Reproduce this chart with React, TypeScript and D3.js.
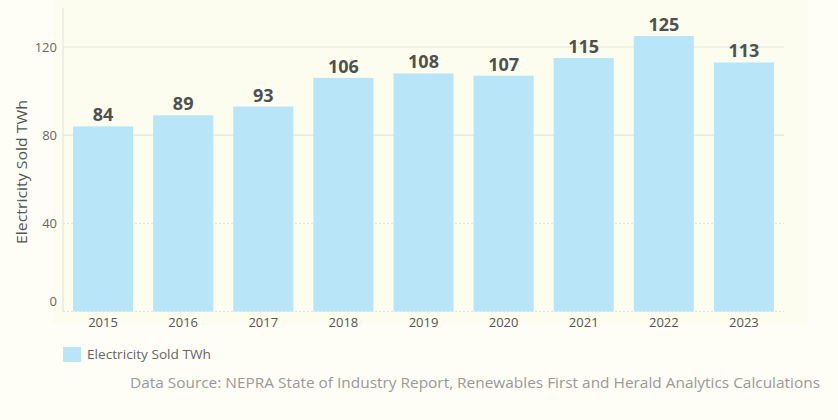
import React from "react";
import * as d3 from "d3";

const years = ["2015", "2016", "2017", "2018", "2019", "2020", "2021", "2022", "2023"];
const sold = [84, 89, 93, 106, 108, 107, 115, 125, 113];
const yTicks = [0, 40, 80, 120];
const seriesName = "Electricity Sold TWh";
const sourceText =
  "Data Source: NEPRA State of Industry Report, Renewables First and Herald Analytics Calculations";

const W = 838;
const H = 420;
const FONT = "'Open Sans', 'DejaVu Sans', sans-serif";

export default function App() {
  const left = 63;
  const right = 784;
  const top = 8;
  const bottom = 311.5;
  const x = d3.scaleBand<string>().domain(years).range([left, right]).paddingInner(0.25).paddingOuter(0.125);
  const y = d3.scaleLinear().domain([0, 137.7]).range([bottom, top]);

  return (
    <div style={{ position: "absolute", left: 0, top: 0 }}>
      <svg width={W} height={H} style={{ display: "block" }}>
        <rect x={0} y={0} width={W} height={H} fill="#fefef7" />
        <rect x={53} y={0} width={755} height={323} fill="#fcfcef" />
        {/* gridlines */}
        {yTicks.map((t) => (
          <line
            key={t}
            x1={left}
            x2={right}
            y1={y(t)}
            y2={y(t)}
            stroke="#e4e4dc"
            strokeWidth={t === 0 ? 1 : 1.2}
            strokeDasharray={t === 0 || t === 40 ? "2,2" : undefined}
          />
        ))}
        <line x1={left} x2={left} y1={top} y2={bottom} stroke="#e4e4dc" strokeWidth={1.2} />
        {/* bars */}
        {years.map((yr, i) => (
          <rect
            key={yr}
            x={x(yr)}
            y={y(sold[i])}
            width={x.bandwidth()}
            height={bottom - y(sold[i])}
            fill="#b8e6f8"
          />
        ))}
        {/* value labels */}
        {years.map((yr, i) => (
          <text
            key={yr}
            x={(x(yr) as number) + x.bandwidth() / 2}
            y={y(sold[i]) - 5}
            textAnchor="middle"
            fontFamily={FONT}
            fontWeight={700}
            fontSize={18}
            fill="#505050"
          >
            {sold[i]}
          </text>
        ))}
        {/* y tick labels */}
        {yTicks.map((t) => (
          <text
            key={t}
            x={57}
            y={t === 0 ? 301 : y(t)}
            dy="0.35em"
            textAnchor="end"
            fontFamily={FONT}
            fontSize={13}
            fill="#666"
          >
            {t}
          </text>
        ))}
        {/* x tick labels */}
        {years.map((yr) => (
          <text
            key={yr}
            x={(x(yr) as number) + x.bandwidth() / 2}
            y={322}
            dy="0.35em"
            textAnchor="middle"
            fontFamily={FONT}
            fontSize={13}
            fill="#555"
          >
            {yr}
          </text>
        ))}
        {/* y title */}
        <text
          transform={`translate(22,172) rotate(-90)`}
          dy="0.35em"
          textAnchor="middle"
          fontFamily={FONT}
          fontSize={14}
          fill="#555"
          textLength={144}
          lengthAdjust="spacingAndGlyphs"
        >
          {seriesName}
        </text>
        {/* legend */}
        <rect x={63} y={347} width={18} height={15} fill="#b8e6f8" />
        <text
          x={87}
          y={354.5}
          dy="0.35em"
          fontFamily={FONT}
          fontSize={13}
          fill="#666"
          textLength={124}
          lengthAdjust="spacingAndGlyphs"
        >
          {seriesName}
        </text>
        {/* source */}
        <text
          x={820}
          y={383}
          dy="0.35em"
          textAnchor="end"
          fontFamily={FONT}
          fontSize={14}
          fill="#999"
          textLength={690}
          lengthAdjust="spacingAndGlyphs"
        >
          {sourceText}
        </text>
      </svg>
    </div>
  );
}
